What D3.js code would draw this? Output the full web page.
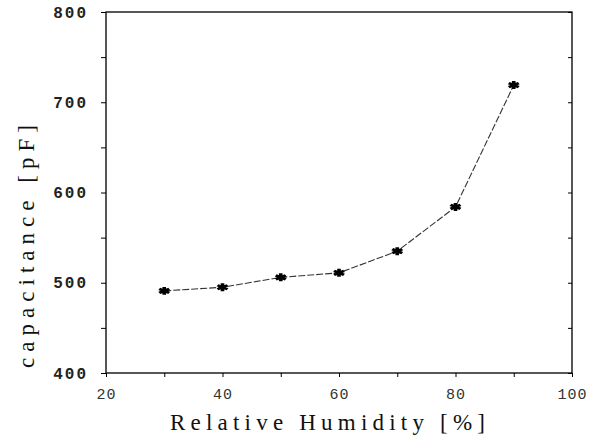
<!DOCTYPE html>
<html>
<head>
    <script src="https://cdnjs.cloudflare.com/ajax/libs/d3/7.8.5/d3.min.js"></script>
    <style>
        body { margin: 0; background: #fff; }
        .tick text { font-family: "Liberation Mono", monospace; }
        .title { font-family: "Liberation Serif", "DejaVu Serif", serif; fill: #111; }
    </style>
</head>
<body>
    <div id="chart"></div>
    <script>
        // values
        const humidity = [30, 40, 50, 60, 70, 80, 90];
        const capacitance = [491, 495, 506, 511, 535, 584, 719];
        const xTicks = [20, 40, 60, 80, 100];
        const yTicks = [400, 500, 600, 700, 800];

        const W = 597, H = 441;
        const margin = {top: 12, right: 25, bottom: 68, left: 106};
        const width = W - margin.left - margin.right;
        const height = H - margin.top - margin.bottom;

        const svg = d3.select("#chart").append("svg")
            .attr("width", W)
            .attr("height", H)
            .append("g")
            .attr("transform", `translate(${margin.left},${margin.top})`);

        const x = d3.scaleLinear().domain([20, 100]).range([0, width]);
        const y = d3.scaleLinear().domain([400, 800]).range([height, 0]);

        // frame
        svg.append("rect")
            .attr("width", width)
            .attr("height", height)
            .attr("fill", "none")
            .attr("stroke", "#111")
            .attr("stroke-width", 1.4);

        // minor ticks
        svg.append("g")
            .attr("transform", `translate(0,${height})`)
            .call(d3.axisBottom(x).tickValues(d3.range(20, 101, 10)).tickSize(4).tickFormat(""))
            .call(g => g.select(".domain").remove());
        svg.append("g")
            .call(d3.axisLeft(y).tickValues(d3.range(400, 801, 50)).tickSize(5).tickFormat(""))
            .call(g => g.select(".domain").remove());
        svg.append("g")
            .attr("transform", `translate(${width},0)`)
            .call(d3.axisLeft(y).tickValues(d3.range(400, 801, 50)).tickSize(4).tickFormat(""))
            .call(g => g.select(".domain").remove());

        // labelled axes
        svg.append("g")
            .attr("transform", `translate(0,${height})`)
            .call(d3.axisBottom(x).tickValues(xTicks).tickSize(0).tickPadding(15))
            .call(g => g.select(".domain").remove())
            .selectAll("text")
            .style("font-size", "15px")
            .style("letter-spacing", "1px")
            .attr("fill", "#333");

        svg.append("g")
            .call(d3.axisLeft(y).tickValues(yTicks).tickSize(0).tickPadding(18))
            .call(g => g.select(".domain").remove())
            .selectAll("text")
            .style("font-size", "16px")
            .style("font-weight", "bold")
            .style("letter-spacing", "2px")
            .attr("fill", "#222");

        // data line
        const line = d3.line()
            .x((d, i) => x(humidity[i]))
            .y(d => y(d));

        svg.append("path")
            .datum(capacitance)
            .attr("d", line)
            .attr("fill", "none")
            .attr("stroke", "#333")
            .attr("stroke-width", 1.1)
            .attr("stroke-dasharray", "7,2");

        svg.selectAll(".pt")
            .data(capacitance)
            .join("path")
            .attr("class", "pt")
            .attr("transform", (d, i) => `translate(${x(humidity[i])},${y(d)}) scale(1.3,0.9)`)
            .attr("d", d3.symbol(d3.symbolAsterisk, 55))
            .attr("fill", "none")
            .attr("stroke", "#000")
            .attr("stroke-width", 2.8);

        // axis titles
        svg.append("text")
            .attr("class", "title")
            .attr("x", 64)
            .attr("y", height + 57)
            .attr("textLength", 315)
            .attr("lengthAdjust", "spacing")
            .style("font-size", "23px")
            .text("Relative Humidity [%]");

        svg.append("text")
            .attr("class", "title")
            .attr("transform", "rotate(-90)")
            .attr("x", -356)
            .attr("y", -72)
            .attr("textLength", 243)
            .attr("lengthAdjust", "spacing")
            .style("font-size", "23px")
            .text("capacitance [pF]");
    </script>
</body>
</html>
